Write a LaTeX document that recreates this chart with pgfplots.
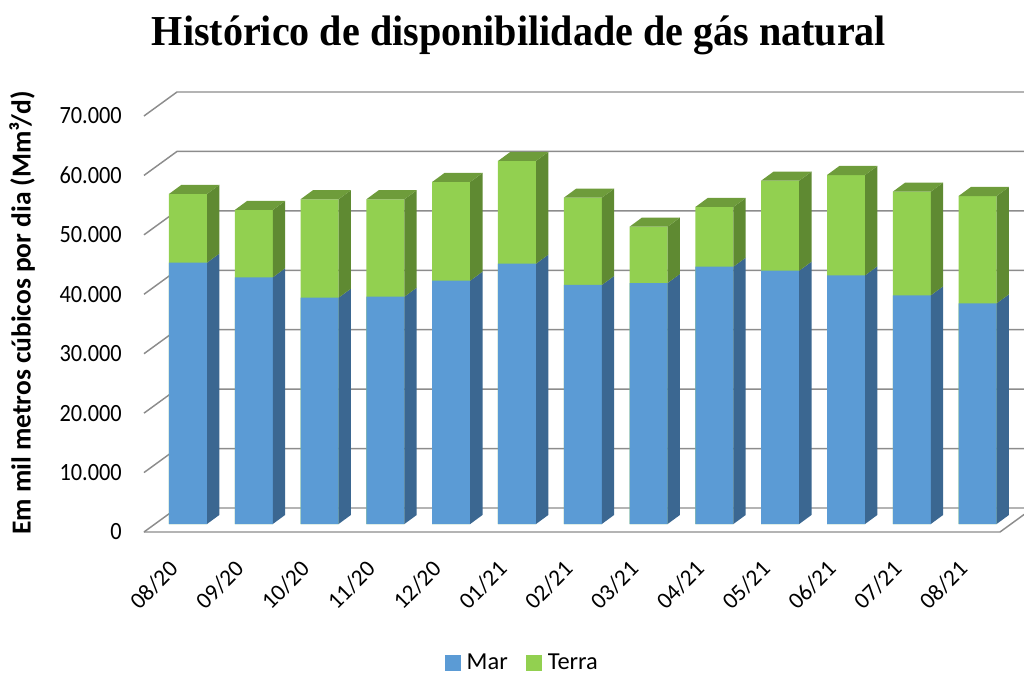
\documentclass[border=0pt]{standalone}
\usepackage{fontspec}
\setmainfont{Carlito}
\newfontfamily\narrowfont{Carlito}[FakeStretch=0.9]
\newfontfamily\titlefont{Liberation Serif}[FakeStretch=0.94]
\usepackage{pgfplots}
\usepackage{pgfplotstable}
\pgfplotsset{compat=1.18}
\definecolor{marf}{HTML}{5B9BD5}
\definecolor{mars}{HTML}{3B6791}
\definecolor{terf}{HTML}{92D050}
\definecolor{ters}{HTML}{5F8A32}
\definecolor{tert}{HTML}{6E9C3B}
\definecolor{gridc}{RGB}{140,140,140}

% values in thousands of Mm3/d (mil)
\pgfplotstableread{
i lab mar terra
0 08/20 43.97 11.56
1 09/20 41.51 11.33
2 10/20 38.08 16.56
3 11/20 38.25 16.39
4 12/20 40.94 16.61
5 01/21 43.80 17.28
6 02/21 40.22 14.68
7 03/21 40.55 9.48
8 04/21 43.30 10.04
9 05/21 42.62 15.15
10 06/21 41.84 16.88
11 07/21 38.48 17.44
12 08/21 37.13 18.06
}\gasdata

\def\hw{0.289}
\def\dxx{0.187}
\def\dyy{1.52}

\begin{document}
\begin{tikzpicture}
\begin{axis}[
  scale only axis, width=768pt, height=506.25pt,
  xmin=-2.857, xmax=12.705, ymin=-25.408, ymax=88.171,
  axis line style={draw=none}, tick style={draw=none}, major tick length=0pt,
  xtick={0,...,12},
  xticklabels from table={\gasdata}{lab},
  xticklabel style={inner sep=0pt, xshift=-10.5pt, yshift=82.5pt, rotate=45, anchor=east, font=\fontsize{17.5}{20}\selectfont},
  ytick={-1.346,8.654,18.654,28.654,38.654,48.654,58.654,68.654},
  yticklabels={0,10.000,20.000,30.000,40.000,50.000,60.000,70.000},
  yticklabel style={anchor=east, inner sep=0pt, xshift=91.5pt, font=\narrowfont\fontsize{18.6}{20}\selectfont},
  title={\titlefont\bfseries Histórico de disponibilidade de gás natural},
  title style={at={(axis description cs:0.5068,0.936)}, anchor=center, inner sep=0pt, font=\fontsize{32}{38}\selectfont},
  ylabel={Em mil metros cúbicos por dia (Mm³/d)},
  ylabel style={at={(axis description cs:0.0215,0.5363)}, anchor=center, inner sep=0pt, font=\bfseries\fontsize{20.6}{22}\selectfont},
  legend style={at={(axis description cs:0.5107,0.0178)}, anchor=center, draw=none, fill=none,
    legend columns=2, font=\fontsize{18.3}{20}\selectfont,
    /tikz/every odd column/.append style={column sep=2.5pt},
    /tikz/every even column/.append style={column sep=12pt}},
  legend image code/.code={\fill[#1] (0pt,-5.8pt) rectangle (11.5pt,5.8pt);},
]
% back-wall gridlines with their left-side diagonals
\pgfplotsinvokeforeach{0,10,20,30,40,50,60,70}{
  \pgfmathsetmacro\ga{#1-1.346}
  \pgfmathsetmacro\gb{#1+2.692}
  \edef\tmp{\noexpand\addplot[gridc, line width=1.1pt, mark=none, forget plot]
     coordinates {(-0.669,\ga) (-0.167,\gb) (12.9,\gb)};}\tmp
}
% floor front and right edges
\addplot[gridc, line width=1.1pt, mark=none, forget plot]
  coordinates {(-0.669,-1.346) (12.340,-1.346) (12.842,2.692)};

% bar fronts
\addplot[ybar, bar width=0.578, bar shift=0pt, fill=terf, draw=none, forget plot]
  table[x=i, y expr=\thisrow{mar}+\thisrow{terra}] {\gasdata};
\addplot[ybar, bar width=0.578, bar shift=0pt, fill=marf, draw=none, forget plot]
  table[x=i, y=mar] {\gasdata};

% side and top faces
\pgfplotsinvokeforeach{0,...,12}{
  \pgfplotstablegetelem{#1}{mar}\of\gasdata \let\vm\pgfplotsretval
  \pgfplotstablegetelem{#1}{terra}\of\gasdata \let\vt\pgfplotsretval
  \pgfmathsetmacro\xa{#1+\hw}
  \pgfmathsetmacro\xb{#1+\hw+\dxx}
  \pgfmathsetmacro\xc{#1-\hw}
  \pgfmathsetmacro\xd{#1-\hw+\dxx}
  \pgfmathsetmacro\vtot{\vm+\vt}
  \pgfmathsetmacro\mb{\vm+\dyy}
  \pgfmathsetmacro\tb{\vtot+\dyy}
  \edef\tmp{%
    \noexpand\addplot[fill=mars, draw=none, mark=none, forget plot]
      coordinates {(\xa,0) (\xb,\dyy) (\xb,\mb) (\xa,\vm)};
    \noexpand\addplot[fill=ters, draw=none, mark=none, forget plot]
      coordinates {(\xa,\vm) (\xb,\mb) (\xb,\tb) (\xa,\vtot)};
    \noexpand\addplot[fill=tert, draw=none, mark=none, forget plot]
      coordinates {(\xc,\vtot) (\xa,\vtot) (\xb,\tb) (\xd,\tb)};
  }\tmp
}

\addlegendimage{fill=marf, draw=none}
\addlegendentry{Mar}
\addlegendimage{fill=terf, draw=none}
\addlegendentry{Terra}
\end{axis}
\end{tikzpicture}
\end{document}
